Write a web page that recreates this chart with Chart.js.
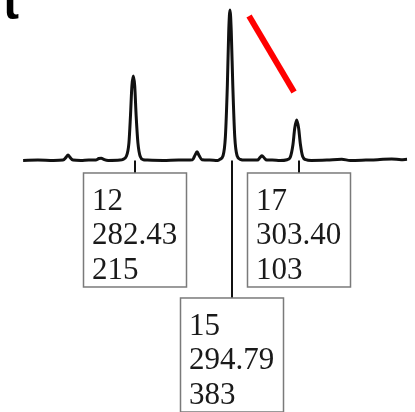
<!DOCTYPE html>
<html>
<head>
<meta charset="utf-8">
<script src="https://cdn.jsdelivr.net/npm/chart.js@4/dist/chart.umd.min.js"></script>
<style>
    body { margin: 0; background: #fff; }
    #wrap { width: 415px; height: 412px; position: relative; }
</style>
</head>
<body>
<div id="wrap"><canvas id="traceChart"></canvas></div>
<script>
// Chromatogram trace (retention time vs. signal)
const traceTime = [
    268.1, 270.0, 272.0, 273.2, 273.6, 273.85, 274.1, 274.5, 275.5, 276.5,
    277.4, 277.8, 278.1, 278.5, 279.0, 280.5, 280.9, 281.3, 281.65, 281.85,
    282.03, 282.21, 282.39, 282.57, 282.8, 283.1, 283.5, 284.0, 286.0, 288.0,
    289.8, 290.1, 290.37, 290.65, 291.0, 292.0, 293.0, 293.3, 293.7, 294.0,
    294.25, 294.43, 294.59, 294.75, 294.95, 295.2, 295.5, 295.9, 296.5, 297.5,
    298.1, 298.45, 298.69, 298.95, 299.3, 300.0, 301.0, 301.9, 302.3, 302.65,
    302.88, 303.13, 303.38, 303.6, 303.9, 304.3, 305.0, 307.0, 308.9, 310.0,
    312.0, 313.5, 315.3, 316.5, 317.26
];
const traceSignal = [
    0, 1, 0, 1, 8, 14, 8, 1, 0, 1,
    1, 5, 6, 2, 0, 1, 3, 10, 45, 115,
    190, 215, 190, 115, 45, 10, 2, 1, 0, 1,
    2, 13, 22, 12, 2, 1, 0, 3, 12, 60,
    190, 330, 383, 330, 190, 60, 12, 3, 1, 1,
    1, 8, 12, 7, 1, 1, 0, 2, 8, 40,
    82, 103, 82, 42, 10, 2, 0, 1, 3, 0,
    1, 2, 4, 2, 3
];

// Labelled peaks
const peakNumber = [12, 15, 17];
const peakTime = [282.43, 294.79, 303.40];
const peakHeight = [215, 383, 103];
const peakRow = [0, 1, 0];

// Red marker stroke
const markerTime = [297.03, 302.79];
const markerSignal = [367.7, 174.3];

function toPoints(xs, ys) {
    return xs.map((x, i) => ({ x: x, y: ys[i] }));
}

const peakBoxes = {
    id: 'peakBoxes',
    afterDatasetsDraw(chart) {
        const ctx = chart.ctx;
        const xScale = chart.scales.x;
        const yScale = chart.scales.y;
        const base = yScale.getPixelForValue(0);

        ctx.save();
        peakTime.forEach((t, i) => {
            const px = Math.round(xScale.getPixelForValue(t));
            const top = peakRow[i] === 0 ? base + 12.5 : base + 137.5;
            const left = px - 52;

            // leader line from the baseline to the box
            ctx.strokeStyle = '#111';
            ctx.lineWidth = 2;
            ctx.beginPath();
            ctx.moveTo(px, base);
            ctx.lineTo(px, top);
            ctx.stroke();

            // box
            ctx.strokeStyle = '#7a7a7a';
            ctx.lineWidth = 1.5;
            ctx.strokeRect(left + 0.5, top, 103, 114);

            // text
            ctx.fillStyle = '#1a1a1a';
            ctx.font = '31px "Liberation Serif", "DejaVu Serif", serif';
            ctx.textBaseline = 'alphabetic';
            const lines = [String(peakNumber[i]), peakTime[i].toFixed(2), String(peakHeight[i])];
            lines.forEach((s, k) => {
                ctx.fillText(s, left + 9, top + 37 + k * 34.5);
            });
        });

        // panel letter, cut off at the top
        ctx.fillStyle = '#000';
        ctx.font = 'bold 48px "Liberation Sans", Arial, sans-serif';
        ctx.fillText('t', 3, 19);
        ctx.restore();
    }
};

document.addEventListener('DOMContentLoaded', function() {
    const ctx = document.getElementById('traceChart').getContext('2d');
    new Chart(ctx, {
        type: 'line',
        data: {
            datasets: [{
                data: toPoints(traceTime, traceSignal),
                borderColor: '#111',
                borderWidth: 3,
                cubicInterpolationMode: 'monotone',
                pointRadius: 0,
                fill: false
            },
            {
                data: toPoints(markerTime, markerSignal),
                borderColor: '#ff0000',
                borderWidth: 6,
                borderCapStyle: 'butt',
                pointRadius: 0,
                fill: false
            }]
        },
        options: {
            responsive: true,
            maintainAspectRatio: false,
            animation: false,
            layout: {
                padding: 0
            },
            plugins: {
                legend: {
                    display: false
                },
                tooltip: {
                    enabled: false
                }
            },
            scales: {
                x: {
                    type: 'linear',
                    min: 265.14,
                    max: 318.28,
                    display: false
                },
                y: {
                    min: -640,
                    max: 408.4,
                    display: false
                }
            }
        },
        plugins: [peakBoxes]
    });
});
</script>
</body>
</html>
